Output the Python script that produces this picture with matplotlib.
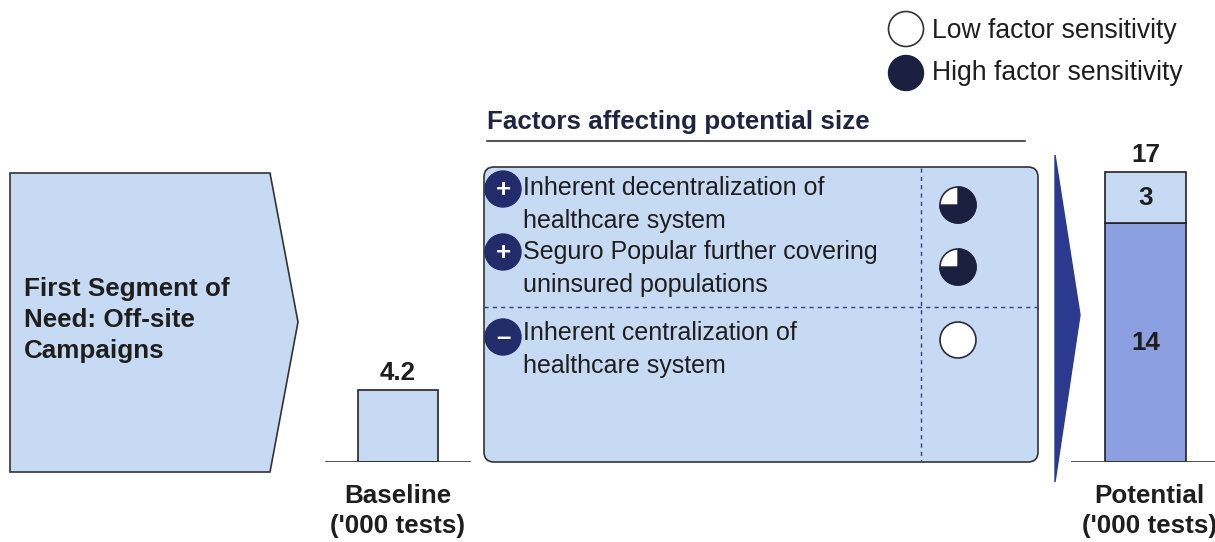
import matplotlib
matplotlib.use("Agg")
import matplotlib.pyplot as plt
from matplotlib.patches import Polygon, FancyBboxPatch, Circle, Wedge

plt.rcParams['font.family'] = ['Liberation Sans', 'DejaVu Sans']

# ---- data ----
baseline_value = [4.2]
potential_parts = [14, 3]
potential_total = 17
factor_signs = ['+', '+', '–']
factor_texts = ['Inherent decentralization of\nhealthcare system',
                'Seguro Popular further covering\nuninsured populations',
                'Inherent centralization of\nhealthcare system']
factor_sensitivity = [0.75, 0.75, 0.0]
segment_label = 'First Segment of\nNeed: Off-site\nCampaigns'
title_text = 'Factors affecting potential size'
legend_labels = ['Low factor sensitivity', 'High factor sensitivity']
bar_labels = ["Baseline\n('000 tests)", "Potential\n('000 tests)"]

# ---- styles ----
LIGHT = '#c7daf3'
MID = '#8c9fe0'
NAVY = '#232c6a'
DARK = '#1c2040'
TXT = '#1e1e1e'
W, H = 1215, 542
PX = 0.72  # px -> pt at dpi 100
FS_R = 25 * PX
FS_B = 26 * PX

fig = plt.figure(figsize=(W / 100, H / 100), dpi=100)
ov = fig.add_axes([0, 0, 1, 1])
ov.set_xlim(0, W)
ov.set_ylim(H, 0)
ov.axis('off')


def lines(x, y0, gap, text, **kw):
    for i, ln in enumerate(text.split('\n')):
        ov.text(x, y0 + i * gap, ln, va='center', **kw)


# bar axes: baseline at y=462px, 17.06 px per unit
base_y = 462
ppu = 17.06
bx = fig.add_axes([0, (H - base_y) / H, 1, base_y / H])
bx.set_xlim(0, W)
bx.set_ylim(0, base_y / ppu)
bx.axis('off')
bx.patch.set_alpha(0)

# left pentagon
pent = Polygon([(10, 173), (270, 173), (298, 322), (270, 472), (10, 472)],
               closed=True, facecolor=LIGHT, edgecolor='#333333', lw=1.2)
ov.add_patch(pent)
lines(24, 289, 31, segment_label, ha='left', fontsize=FS_B, fontweight='bold', color=TXT)

# baseline bar
bx.bar([398], baseline_value, width=80, color=LIGHT, edgecolor='#222222', lw=1.2)
bx.plot([326, 470], [0, 0], color='#333333', lw=1.2)
bx.text(398, baseline_value[0] + 0.3, f'{baseline_value[0]:.1f}', ha='center', va='bottom',
        fontsize=FS_B, fontweight='bold', color=TXT)
lines(398, 496, 30, bar_labels[0], ha='center', fontsize=FS_B, fontweight='bold', color=TXT)

# title + underline
ov.text(487, 122, title_text, ha='left', va='center', fontsize=FS_B,
        fontweight='bold', color='#1f2540')
ov.plot([487, 1025], [141, 141], color='#333333', lw=1.2)

# central box
box = FancyBboxPatch((484, 167), 1038 - 484, 462 - 167,
                     boxstyle='round,pad=0,rounding_size=10',
                     facecolor=LIGHT, edgecolor='#333333', lw=1.2)
ov.add_patch(box)
ov.plot([484, 1038], [307, 307], color='#2e3f8f', lw=1, ls=(0, (3, 3)))
ov.plot([921, 921], [168, 461], color='#2e3f8f', lw=1, ls=(0, (3, 3)))

sign_y = [189, 252, 337]
text_y = [188, 252, 333]
ball_y = [205, 267, 340]
for sgn, txt, sy, ty, byy, sens in zip(factor_signs, factor_texts, sign_y, text_y,
                                        ball_y, factor_sensitivity):
    ov.add_patch(Circle((503, sy), 18, facecolor=NAVY, edgecolor=NAVY))
    ov.text(503, sy + 1, '+' if sgn == '+' else '–', ha='center', va='center',
            color='white', fontsize=26 * PX, fontweight='bold')
    lines(523, ty, 33, txt, ha='left', fontsize=FS_R, color=TXT)
    ov.add_patch(Circle((958, byy), 18, facecolor='white', edgecolor='#2a2a3a', lw=1.2))
    if sens > 0:
        ov.add_patch(Wedge((958, byy), 18, 270, 270 + 360 * sens,
                           facecolor=DARK, edgecolor=DARK))

# big arrow
arrow = Polygon([(1055, 155), (1080, 315), (1055, 482)], closed=True,
                facecolor='#2b3a8f', edgecolor='#2b3a8f')
ov.add_patch(arrow)

# potential stacked bar
bottom = 0
colors = [MID, LIGHT]
for v, c in zip(potential_parts, colors):
    bx.bar([1145.5], [v], bottom=bottom, width=81, color=c, edgecolor='#222222', lw=1.2)
    bx.text(1145.5, bottom + v / 2, f'{v}', ha='center', va='center',
            fontsize=FS_B, fontweight='bold', color=TXT)
    bottom += v
bx.plot([1072, 1215], [0, 0], color='#333333', lw=1.2)
bx.text(1145.5, potential_total + 0.3, f'{potential_total}', ha='center', va='bottom',
        fontsize=FS_B, fontweight='bold', color=TXT)
lines(1149, 496, 30, bar_labels[1], ha='center', fontsize=FS_B, fontweight='bold', color=TXT)

# legend
ov.add_patch(Circle((906, 29), 17.5, facecolor='white', edgecolor='#333333', lw=1.2))
ov.add_patch(Circle((906, 73), 17.5, facecolor=DARK, edgecolor=DARK))
ov.text(932, 31, legend_labels[0], ha='left', va='center', fontsize=26.5 * PX, color=TXT)
ov.text(932, 73, legend_labels[1], ha='left', va='center', fontsize=26.5 * PX, color=TXT)

fig.savefig('out.png', dpi=100)
